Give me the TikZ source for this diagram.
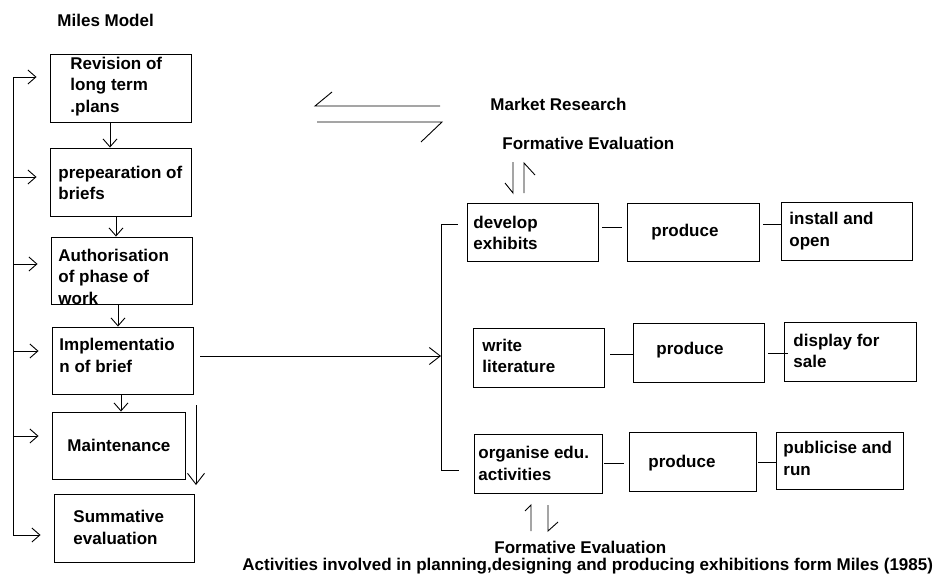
\documentclass[tikz,border=0pt]{standalone}
\usepackage{fontspec}
\setmainfont{Liberation Sans}
\usetikzlibrary{arrows.meta,fit,calc}
\begin{document}
\begin{tikzpicture}[x=1pt,y=-1pt,
  line width=0.9pt,
  box/.style={draw, inner sep=0pt, fit={#1}},
  txt/.style={font=\bfseries\fontsize{17}{21.5}\selectfont, align=left, anchor=west, inner sep=0pt},
  arr/.style={-{Straight Barb[length=8pt,width=14pt]}},
  bigarr/.style={-{Straight Barb[length=11pt,width=17pt]}}
]
\useasboundingbox (0,0) rectangle (941,578);

% ---- left column: Miles model steps
\node[txt] (title) at (57,20) {Miles Model};

\node[box={(50,54)(191,122)}] (b1) {};
\node[box={(50,148)(191,216)}] (b2) {};
\node[box={(51,237)(192,304)}] (b3) {};
\node[box={(52,327)(193,394)}] (b4) {};
\node[box={(52,412)(185,479)}] (b5) {};
\node[box={(54,494)(194,562)}] (b6) {};

\node[txt] (t1) at (70,86.5) {Revision of\\long term\\.plans};
\node[txt] (t2) at (58,183) {prepearation of\\briefs};
\node[txt] (t3) at (58,276.5) {Authorisation\\of phase of\\work};
\node[txt] (t4) at (59,355.5) {Implementatio\\n of brief};
\node[txt] (t5) at (67,445) {Maintenance};
\node[txt] (t6) at (73,527.5) {Summative\\evaluation};

% arrows down the column
\draw[arr] (b1.south -| 110,0) -- (b2.north -| 110,0);
\draw[arr] (b2.south -| 116,0) -- (b3.north -| 116,0);
\draw[arr] (b3.south -| 118,0) -- (b4.north -| 118,0);
\draw[arr] (b4.south -| 121,0) -- (b5.north -| 121,0);
\coordinate (ltop) at (196,405);
\coordinate (lbot) at (196,485);
\draw[bigarr] (ltop) -- (lbot);

% feedback bus on the left
\coordinate (bus1) at (13,77);
\coordinate (bus6) at (13,535);
\draw (bus1) -- (bus6);
\foreach \y/\b in {77/b1,177/b2,264/b3,351/b4,436/b5,535/b6}{
  \draw[arr] (13,\y) -- ($(\b.west |- 0,\y)+(-13,0)$);
}

% ---- market research harpoons
\coordinate (ha) at (332,92);
\coordinate (hb) at (315,106);
\coordinate (hc) at (440,106);
\coordinate (hd) at (317,122);
\coordinate (he) at (442,122);
\coordinate (hf) at (421,142);
\draw (ha) -- (hb) -- (hc);
\draw (hd) -- (he) -- (hf);
\node[txt] (mr) at (490,104) {Market Research};
\node[txt] (fe1) at (502,143) {Formative Evaluation};

% ---- right side: activity rows
\node[box={(467,203)(598,261)}] (dev) {};
\node[box={(627,203)(759,261)}] (pr1) {};
\node[box={(781,202)(912,260)}] (ins) {};
\node[box={(473,328)(604,387)}] (wri) {};
\node[box={(633,323)(764,382)}] (pr2) {};
\node[box={(784,322)(916,381)}] (dis) {};
\node[box={(474,434)(602,493)}] (org) {};
\node[box={(629,432)(756,491)}] (pr3) {};
\node[box={(776,432)(903,489)}] (pub) {};

\node[txt] (tdev) at (473,233) {develop\\exhibits};
\node[txt] (tpr1) at (651,232) {produce};
\node[txt] (tins) at (789,231) {install and\\open};
\node[txt] (twri) at (482,356) {write\\literature};
\node[txt] (tpr2) at (656,350) {produce};
\node[txt] (tdis) at (793,351) {display for\\sale};
\node[txt] (torg) at (478,463.5) {organise edu.\\activities};
\node[txt] (tpr3) at (648,463) {produce};
\node[txt] (tpub) at (783,458.5) {publicise and\\run};

% short links between the boxes of each row
\draw ($(dev.east |- 0,227)+(4,0)$) -- ($(pr1.west |- 0,227)+(-5,0)$);
\draw ($(pr1.east |- 0,224)+(4,0)$) -- (ins.west |- 0,224);
\draw ($(wri.east |- 0,354)+(6,0)$) -- (pr2.west |- 0,354);
\draw ($(pr2.east |- 0,353)+(4,0)$) -- ($(dis.west |- 0,353)+(4,0)$);
\draw ($(org.east |- 0,463)+(2,0)$) -- ($(pr3.west |- 0,463)+(-5,0)$);
\draw ($(pr3.east |- 0,462)+(2,0)$) -- (pub.west |- 0,462);

% bracket gathering the three activities
\coordinate (brt) at (441,224);
\coordinate (brb) at (441,470);
\draw ($(dev.west |- brt)+(-9,0)$) -- (brt) -- (brb) -- ($(org.west |- brb)+(-15,0)$);
\coordinate (brm) at (441,356);
\draw[bigarr] ($(b4.east |- brm)+(7,0)$) -- (brm);

% formative evaluation arrows
\coordinate (fa1) at (505,183);
\coordinate (fa2) at (513,193);
\coordinate (fa3) at (513,162);
\coordinate (fb1) at (524,193);
\coordinate (fb2) at (524,163);
\coordinate (fb3) at (535,175);
\draw (fa1) -- (fa2) -- (fa3);
\draw (fb1) -- (fb2) -- (fb3);

\coordinate (fc1) at (531,531);
\coordinate (fc2) at (531,505);
\coordinate (fc3) at (525,511);
\coordinate (fd1) at (548,505);
\coordinate (fd2) at (548,531);
\coordinate (fd3) at (558,522);
\draw (fc1) -- (fc2) -- (fc3);
\draw (fd1) -- (fd2) -- (fd3);

\node[txt] (fe2) at (494,547) {Formative Evaluation};
\node[txt] (cap) at (242,566) {Activities involved in planning,designing and producing exhibitions form Miles (1985)};
\end{tikzpicture}
\end{document}
